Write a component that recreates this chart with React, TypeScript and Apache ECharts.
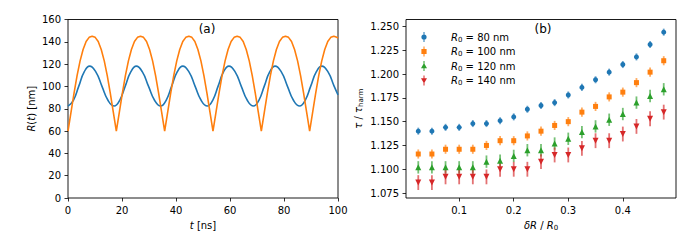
import React, { useEffect, useRef } from "react";
import * as echarts from "echarts";

// ---------- panel (a): R(t) ----------
const blueT = [0, 2, 4, 6, 8, 10.3, 12.55, 14.8, 17.1, 19.15, 21.2, 23.25, 25.3, 27.55, 29.8, 32.05, 34.3, 36.35, 38.4, 40.45, 42.5, 44.8, 47.05, 49.3, 51.6, 53.6, 55.6, 57.6, 59.6, 61.9, 64.15, 66.4, 68.7, 70.7, 72.7, 74.7, 76.7, 79.0, 81.25, 83.5, 85.8, 87.85, 89.9, 91.95, 94.0, 96.3, 98.55, 100];
const blueR = [82.4, 87.6, 100.3, 113, 118.2, 113, 100.3, 87.6, 82.4, 87.6, 100.3, 113, 118.2, 113, 100.3, 87.6, 82.4, 87.6, 100.3, 113, 118.2, 113, 100.3, 87.6, 82.4, 87.6, 100.3, 113, 118.2, 113, 100.3, 87.6, 82.4, 87.6, 100.3, 113, 118.2, 113, 100.3, 87.6, 82.4, 87.6, 100.3, 113, 118.2, 113, 100.3, 92.5];

const orangeT = [
  0, 1.12, 2.24, 3.36, 4.48, 5.59, 6.71, 7.83, 8.95, 10.07, 11.19, 12.31, 13.43, 14.54, 15.66, 16.78,
  17.9, 19.02, 20.14, 21.26, 22.38, 23.49, 24.61, 25.73, 26.85, 27.97, 29.09, 30.21, 31.33, 32.44, 33.56, 34.68,
  35.8, 36.92, 38.04, 39.16, 40.28, 41.39, 42.51, 43.63, 44.75, 45.87, 46.99, 48.11, 49.23, 50.34, 51.46, 52.58,
  53.7, 54.82, 55.94, 57.06, 58.18, 59.29, 60.41, 61.53, 62.65, 63.77, 64.89, 66.01, 67.13, 68.24, 69.36, 70.48,
  71.6, 72.72, 73.84, 74.96, 76.08, 77.19, 78.31, 79.43, 80.55, 81.67, 82.79, 83.91, 85.03, 86.14, 87.26, 88.38,
  89.5, 90.62, 91.74, 92.86, 93.98, 95.09, 96.21, 97.33, 98.45, 99.57, 100,
];
const orangeR = [
  60, 77, 94, 109.7, 122.9, 133.1, 140.3, 144, 145, 144, 140.3, 133.1, 122.9, 109.7, 94, 77,
  60, 77, 94, 109.7, 122.9, 133.1, 140.3, 144, 145, 144, 140.3, 133.1, 122.9, 109.7, 94, 77,
  60, 77, 94, 109.7, 122.9, 133.1, 140.3, 144, 145, 144, 140.3, 133.1, 122.9, 109.7, 94, 77,
  60, 77, 94, 109.7, 122.9, 133.1, 140.3, 144, 145, 144, 140.3, 133.1, 122.9, 109.7, 94, 77,
  60, 77, 94, 109.7, 122.9, 133.1, 140.3, 144, 145, 144, 140.3, 133.1, 122.9, 109.7, 94, 77,
  60, 77, 94, 109.7, 122.9, 133.1, 140.3, 144, 145, 144, 143.3,
];

// ---------- panel (b): tau / tau_harm ----------
const deltaR = [0.025, 0.05, 0.075, 0.1, 0.125, 0.15, 0.175, 0.2, 0.225, 0.25, 0.275, 0.3, 0.325, 0.35, 0.375, 0.4, 0.425, 0.45, 0.475];
const tau80 = [1.140, 1.140, 1.144, 1.144, 1.148, 1.148, 1.151, 1.155, 1.163, 1.167, 1.170, 1.178, 1.186, 1.194, 1.202, 1.210, 1.218, 1.231, 1.244];
const tau100 = [1.116, 1.116, 1.121, 1.121, 1.121, 1.125, 1.130, 1.130, 1.135, 1.140, 1.146, 1.150, 1.160, 1.166, 1.176, 1.181, 1.191, 1.202, 1.214];
const tau120 = [1.102, 1.102, 1.102, 1.102, 1.102, 1.108, 1.109, 1.114, 1.120, 1.120, 1.127, 1.132, 1.139, 1.145, 1.152, 1.158, 1.170, 1.177, 1.184];
const tau140 = [1.086, 1.086, 1.092, 1.092, 1.092, 1.092, 1.100, 1.100, 1.100, 1.108, 1.115, 1.115, 1.122, 1.130, 1.130, 1.137, 1.145, 1.153, 1.160];
const err80 = 0.0037;
const err100 = 0.0048;
const err120 = 0.0065;
const err140 = 0.0078;

const leftXTicks = [0, 20, 40, 60, 80, 100];
const leftYTicks = [0, 20, 40, 60, 80, 100, 120, 140, 160];
const rightXTicks = [0.1, 0.2, 0.3, 0.4];
const rightYTicks = [1.075, 1.1, 1.125, 1.15, 1.175, 1.2, 1.225, 1.25];

const seriesNames = ["R0 = 80 nm", "R0 = 100 nm", "R0 = 120 nm", "R0 = 140 nm"];

const FONT = "DejaVu Sans";
const C_BLUE = "#1f77b4";
const C_ORANGE = "#ff7f0e";
const C_GREEN = "#2ca02c";
const C_RED = "#d62728";

const zip = (a: number[], b: number[]) => a.map((v, i) => [v, b[i]]);

const richStyles = {
  n: { fontFamily: FONT, fontSize: 10, color: "#000", lineHeight: 12 },
  i: { fontFamily: FONT, fontSize: 10, color: "#000", fontStyle: "italic", lineHeight: 12 },
  s: { fontFamily: FONT, fontSize: 7, color: "#000", lineHeight: 5, verticalAlign: "bottom" },
};

const tickStyle = { show: true, inside: false, length: 3.5, lineStyle: { color: "#000", width: 0.8 } };
const labelStyle = { fontFamily: FONT, fontSize: 10, color: "#000", margin: 7 };

function errSeries(ys: number[], err: number, color: string) {
  return {
    type: "custom",
    xAxisIndex: 1,
    yAxisIndex: 1,
    silent: true,
    z: 2,
    data: deltaR.map((x, i) => [x, ys[i] - err, ys[i] + err]),
    encode: { x: 0, y: [1, 2] },
    renderItem: (params: any, api: any) => {
      const p1 = api.coord([api.value(0), api.value(1)]);
      const p2 = api.coord([api.value(0), api.value(2)]);
      return {
        type: "line",
        shape: { x1: p1[0], y1: p1[1], x2: p2[0], y2: p2[1] },
        style: { stroke: color, lineWidth: 1.8, opacity: 0.65 },
      };
    },
  };
}

function markSeries(name: string, ys: number[], color: string, symbol: string, size: number, rotate = 0) {
  return {
    type: "scatter",
    name,
    xAxisIndex: 1,
    yAxisIndex: 1,
    z: 3,
    symbol,
    symbolSize: size,
    symbolRotate: rotate,
    itemStyle: { color, opacity: 1 },
    data: zip(deltaR, ys),
  };
}

const iconBar = "M2.5,0 L3.5,0 L3.5,10 L2.5,10 Z ";
const icons = [
  "path://" + iconBar + "M0.4,5 A2.6,2.6 0 1 1 5.6,5 A2.6,2.6 0 1 1 0.4,5 Z",
  "path://" + iconBar + "M0.4,2.4 L5.6,2.4 L5.6,7.6 L0.4,7.6 Z",
  "path://" + iconBar + "M3,2 L6,7.2 L0,7.2 Z",
  "path://" + iconBar + "M0,2.8 L6,2.8 L3,8 Z",
];

export default function App() {
  const ref = useRef<HTMLDivElement>(null);
  useEffect(() => {
    const chart = echarts.init(ref.current!, null, { renderer: "svg" });
    const option: any = {
      animation: false,
      backgroundColor: "#fff",
      grid: [
        { left: 68, top: 19.5, width: 270, height: 178.5, show: true, borderColor: "#000", borderWidth: 0.9, containLabel: false, outerBoundsMode: "none" },
        { left: 406, top: 19.5, width: 270, height: 178.5, show: true, borderColor: "#000", borderWidth: 0.9, containLabel: false, outerBoundsMode: "none" },
      ],
      xAxis: [
        {
          type: "value", gridIndex: 0, min: 0, max: 100, interval: 20,
          axisLine: { show: false }, splitLine: { show: false }, axisTick: tickStyle,
          axisLabel: { ...labelStyle, customValues: leftXTicks },
          name: "{i|t}{n| [ns]}", nameLocation: "middle", nameGap: 21,
          nameTextStyle: { rich: richStyles },
        },
        {
          type: "value", gridIndex: 1, min: 0.0025, max: 0.4975,
          axisLine: { show: false }, splitLine: { show: false },
          axisTick: { ...tickStyle, customValues: rightXTicks },
          axisLabel: { ...labelStyle, customValues: rightXTicks, formatter: (v: number) => String(+v.toFixed(1)) },
          name: "{i|δR}{n| / }{i|R}{s|0}", nameLocation: "middle", nameGap: 21,
          nameTextStyle: { rich: richStyles },
        },
      ],
      yAxis: [
        {
          type: "value", gridIndex: 0, min: 0, max: 160, interval: 20,
          axisLine: { show: false }, splitLine: { show: false }, axisTick: tickStyle,
          axisLabel: { ...labelStyle, customValues: leftYTicks },
          name: "{i|R}{n|(}{i|t}{n|) [nm]}", nameLocation: "middle", nameGap: 31, nameRotate: 90,
          nameTextStyle: { rich: richStyles },
        },
        {
          type: "value", gridIndex: 1, min: 1.0698, max: 1.2573,
          axisLine: { show: false }, splitLine: { show: false },
          axisTick: { ...tickStyle, customValues: rightYTicks },
          axisLabel: { ...labelStyle, customValues: rightYTicks, formatter: (v: number) => v.toFixed(3) },
          name: "{i|τ}{n| / }{i|τ}{s|harm}", nameLocation: "middle", nameGap: 42, nameRotate: 90,
          nameTextStyle: { rich: richStyles },
        },
      ],
      legend: {
        orient: "vertical",
        left: 416,
        top: 27,
        itemWidth: 24,
        itemHeight: 10,
        itemGap: 3.5,
        symbolKeepAspect: true,
        data: seriesNames.map((n, i) => ({ name: n, icon: icons[i] })),
        formatter: (name: string) => name.replace("R0", "{i|R}{s|0}{n|") + "}",
        textStyle: { fontFamily: FONT, fontSize: 10, color: "#000", rich: richStyles, padding: [0, 0, 0, 10] },
      },
      graphic: [
        { type: "text", x: 207, y: 29, style: { text: "(a)", fill: "#000", font: "12px 'DejaVu Sans'", align: "center", verticalAlign: "middle", textAlign: "center", textVerticalAlign: "middle" } },
        { type: "text", x: 543, y: 29, style: { text: "(b)", fill: "#000", font: "12px 'DejaVu Sans'", align: "center", verticalAlign: "middle", textAlign: "center", textVerticalAlign: "middle" } },
      ],
      series: [
        {
          type: "line", xAxisIndex: 0, yAxisIndex: 0, data: zip(blueT, blueR),
          showSymbol: false, symbol: "none", smooth: 0.5,
          lineStyle: { color: C_BLUE, width: 1.6 }, itemStyle: { color: C_BLUE },
        },
        {
          type: "line", xAxisIndex: 0, yAxisIndex: 0, data: zip(orangeT, orangeR),
          showSymbol: false, symbol: "none", smooth: false,
          lineStyle: { color: C_ORANGE, width: 1.6 }, itemStyle: { color: C_ORANGE },
        },
        errSeries(tau80, err80, C_BLUE),
        errSeries(tau100, err100, C_ORANGE),
        errSeries(tau120, err120, C_GREEN),
        errSeries(tau140, err140, C_RED),
        markSeries(seriesNames[0], tau80, C_BLUE, "circle", 5),
        markSeries(seriesNames[1], tau100, C_ORANGE, "rect", 5),
        markSeries(seriesNames[2], tau120, C_GREEN, "triangle", 6),
        markSeries(seriesNames[3], tau140, C_RED, "triangle", 6, 180),
      ],
    };
    chart.setOption(option);
    return () => chart.dispose();
  }, []);
  return (
    <div
      ref={ref}
      style={{ position: "fixed", left: 0, top: 0, width: 691, height: 242, background: "#fff" }}
    />
  );
}
